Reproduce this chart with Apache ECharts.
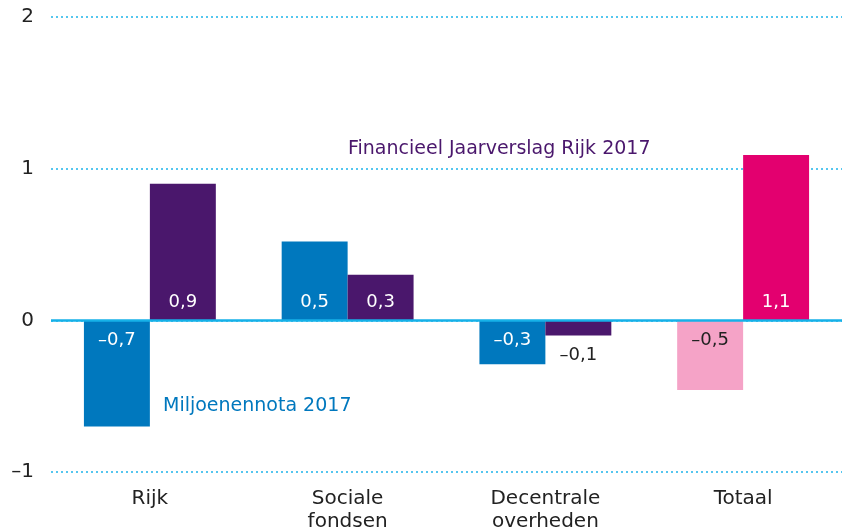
<!DOCTYPE html>
<html><head><meta charset="utf-8">
<script src="https://cdn.jsdelivr.net/npm/echarts@6/dist/echarts.min.js"></script>
<style>html,body{margin:0;padding:0;background:#fff}#c{width:842px;height:528px}</style>
</head><body><div id="c"></div>
<script>
const categories = ['Rijk', 'Sociale\nfondsen', 'Decentrale\noverheden', 'Totaal'];
const mnValues = [-0.7, 0.52, -0.29, -0.46];
const mnLabels = ['\u20130,7', '0,5', '\u20130,3', '\u20130,5'];
const fjValues = [0.9, 0.3, -0.1, 1.09];
const fjLabels = ['0,9', '0,3', '\u20130,1', '1,1'];
const yTicks = [-1, 0, 1, 2];

const FONT = '"DejaVu Sans", "Noto Sans", sans-serif';
const blue = '#0078be', purple = '#4a176c', pink = '#f5a3c7', magenta = '#e3006f';

function items(vals, labels, colors) {
  return vals.map((v, i) => {
    const small = Math.abs(v) < 0.2;
    let pos = v >= 0 ? 'insideBottom' : 'insideTop';
    let col = colors[i] === pink ? '#222' : '#fff';
    if (small) { pos = v >= 0 ? 'top' : 'bottom'; col = '#222'; }
    return {
      value: v,
      itemStyle: { color: colors[i] },
      label: { show: true, position: pos, color: col, formatter: labels[i],
               distance: v >= 0 ? 9 : 11, fontSize: 18, fontFamily: FONT }
    };
  });
}

const chart = echarts.init(document.getElementById('c'));
chart.setOption({
  animation: false,
  grid: { left: 51, right: 0, top: 17, bottom: 56, outerBoundsMode: 'none', containLabel: false },
  xAxis: {
    type: 'category', data: categories,
    axisLine: { show: false }, axisTick: { show: false },
    axisLabel: { color: '#222', fontSize: 20, fontFamily: FONT, margin: 15, lineHeight: 23 }
  },
  yAxis: {
    type: 'value', min: -1, max: 2, interval: 1,
    axisLine: { show: false }, axisTick: { show: false },
    axisLabel: { color: '#222', fontSize: 20, fontFamily: FONT, margin: 17,
      formatter: v => yTicks.includes(v) ? (v < 0 ? '\u2013' + Math.abs(v) : String(v)) : '' },
    splitLine: { lineStyle: { color: '#1eb4ea', width: 1.5, type: [2, 3] } }
  },
  series: [
    { type: 'bar', name: 'Miljoenennota 2017', barGap: 0, barCategoryGap: '33.3%',
      data: items(mnValues, mnLabels, [blue, blue, blue, pink]),
      markLine: { silent: true, symbol: 'none', label: { show: false },
        lineStyle: { color: '#16b1e8', width: 2.5, type: 'solid' },
        data: [{ yAxis: 0 }] } },
    { type: 'bar', name: 'Financieel Jaarverslag Rijk 2017',
      data: items(fjValues, fjLabels, [purple, purple, purple, magenta]) }
  ],
  graphic: [
    { type: 'text', left: 348, top: 140, style: { text: 'Financieel Jaarverslag Rijk 2017',
      fill: purple, fontSize: 19, fontFamily: FONT } },
    { type: 'text', left: 163, top: 397, style: { text: 'Miljoenennota 2017',
      fill: blue, fontSize: 19, fontFamily: FONT } }
  ]
});
</script>
</body></html>
